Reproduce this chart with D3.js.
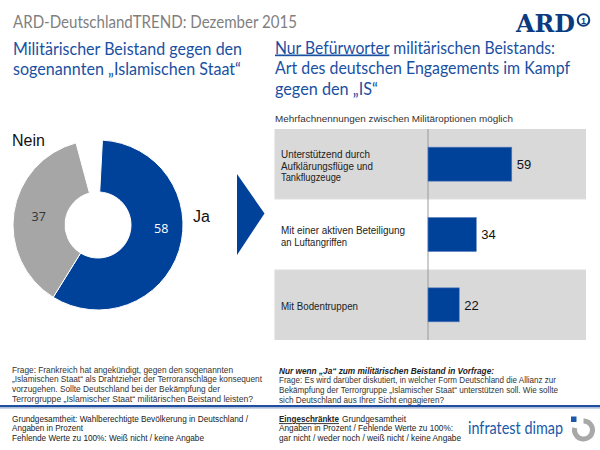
<!DOCTYPE html>
<html><head><meta charset="utf-8">
<script src="https://cdn.jsdelivr.net/npm/d3@7"></script>
<style>body{margin:0;background:#fff}svg{display:block}</style>
</head><body>
<script>
// ---- data ----
const pieCategories = ["Ja", "Nein"];
const pieValues = [58, 37];
const barCategories = ["Unterstützend durch Aufklärungsflüge und Tankflugzeuge", "Mit einer aktiven Beteiligung an Luftangriffen", "Mit Bodentruppen"];
const barLabelLines = [["Unterstützend  durch", "Aufklärungsflüge  und", "Tankflugzeuge"], ["Mit einer aktiven Beteiligung", "an Luftangriffen"], ["Mit Bodentruppen"]];
const barValues = [59, 34, 22];
const headerText = "ARD-DeutschlandTREND: Dezember 2015";
const leftTitle = ["Militärischer Beistand gegen den", "sogenannten „Islamischen Staat“"];
const rightTitle = [["Nur Befürworter", " militärischen Beistands:"], ["", "Art des deutschen Engagements im Kampf"], ["", "gegen den „IS“"]];
const noteText = "Mehrfachnennungen  zwischen Militäroptionen möglich";
const leftQuestion = ["Frage: Frankreich hat angekündigt,  gegen den sogenannten", "„Islamischen Staat“ als Drahtzieher der Terroranschläge  konsequent", "vorzugehen.  Sollte Deutschland bei der Bekämpfung der", "Terrorgruppe  „Islamischer Staat“ militärischen Beistand leisten?"];
const rightQuestionHead = "Nur wenn „Ja“ zum militärischen  Beistand  in Vorfrage:";
const rightQuestion = ["Frage: Es wird darüber  diskutiert, in welcher Form Deutschland  die Allianz zur", "Bekämpfung der Terrorgruppe  „Islamischer Staat“ unterstützen soll. Wie sollte", "sich Deutschland  aus Ihrer  Sicht engagieren?"];
const leftBase = ["Grundgesamtheit:  Wahlberechtigte Bevölkerung  in Deutschland /", "Angaben in Prozent", "Fehlende  Werte zu 100%: Weiß nicht / keine Angabe"];
const rightBaseHead = ["Eingeschränkte", "Grundgesamtheit"];
const rightBase = ["Angaben in Prozent  / Fehlende Werte zu 100%:", "gar nicht / weder noch / weiß nicht / keine Angabe"];

// ---- style ----
const BLUE = "#00419a", TBLUE = "#1a50a2", GRAY = "#a6a6a6", STRIPE = "#d9d9d9";
const TITLEFONT = "Lato, 'Open Sans', sans-serif", ARIAL = "'Liberation Sans', Arial, sans-serif";

const svg = d3.select("body").append("svg").attr("width", 600).attr("height", 450);
svg.append("rect").attr("width", 600).attr("height", 450).attr("fill", "#fff");

function fitText(sel, w) {
  sel.each(function () {
    const len = this.getComputedTextLength();
    if (len > 0) d3.select(this).attr("textLength", w).attr("lengthAdjust", "spacingAndGlyphs");
  });
}

// header
svg.append("text").attr("x", 13).attr("y", 28).attr("font-family", TITLEFONT).attr("font-size", 18)
  .attr("fill", "#7f7f7f").text(headerText).call(fitText, 284);

// ARD logo
svg.append("text").attr("x", 516).attr("y", 32).attr("font-family", "'DejaVu Serif', serif").attr("font-weight", "bold")
  .attr("font-size", 24).attr("fill", "#0b3a7e").text("ARD").call(fitText, 59);
svg.append("circle").attr("cx", 583.5).attr("cy", 20).attr("r", 5.8).attr("fill", "none").attr("stroke", "#0b3a7e").attr("stroke-width", 2);
svg.append("text").attr("x", 583.5).attr("y", 23.5).attr("text-anchor", "middle").attr("font-family", ARIAL).attr("font-weight", "bold")
  .attr("font-size", 9).attr("fill", "#0b3a7e").text("1");

// left title
const ltW = [229, 228];
leftTitle.forEach((t, i) => {
  svg.append("text").attr("x", 13).attr("y", 54.5 + i * 20).attr("font-family", TITLEFONT).attr("font-size", 17)
    .attr("fill", TBLUE).text(t).call(fitText, ltW[i]);
});
// right title
const rtW = [280, 295, 103];
rightTitle.forEach((parts, i) => {
  const t = svg.append("text").attr("x", 275).attr("y", 53.5 + i * 20.5).attr("font-family", TITLEFONT).attr("font-size", 17)
    .attr("fill", TBLUE);
  if (parts[0]) t.append("tspan").attr("text-decoration", "underline").text(parts[0]);
  t.append("tspan").text(parts[1]);
  t.call(fitText, rtW[i]);
});

// ---- donut ----
const cx = 98, cy = 225, rOut = 85, rIn = 33;
const start = 3 * Math.PI / 180;
const total = d3.sum(pieValues);
const pie = d3.pie().sort(null).value(d => d.v).startAngle(start).endAngle(start + 2 * Math.PI * total / 100);
const arcs = pie(pieCategories.map((c, i) => ({ c, v: pieValues[i] })));
const arc = d3.arc().innerRadius(rIn).outerRadius(rOut);
const pieColor = d3.scaleOrdinal().domain(pieCategories).range([BLUE, GRAY]);
const pg = svg.append("g").attr("transform", `translate(${cx},${cy})`);
pg.selectAll("path").data(arcs).join("path").attr("d", arc).attr("fill", d => pieColor(d.data.c))
  .attr("stroke", "#fff").attr("stroke-width", 1);
const labelArc = d3.arc().innerRadius(60).outerRadius(60);
pg.selectAll("text.v").data(arcs).join("text").attr("class", "v")
  .attr("transform", (d, i) => {
    const [x, y] = labelArc.centroid(d);
    return i === 0 ? `translate(${x + 6},${y - 14})` : `translate(${x},${y})`;
  })
  .attr("text-anchor", "middle").attr("dy", "0.36em").attr("font-family", "'Open Sans', sans-serif").attr("font-size", 12.5)
  .attr("fill", (d, i) => i === 0 ? "#fff" : "#333").text(d => d.data.v);
// category labels
svg.append("text").attr("x", 193).attr("y", 222).attr("font-family", ARIAL).attr("font-size", 16).attr("fill", "#111").text(pieCategories[0]);
svg.append("text").attr("x", 12).attr("y", 145.5).attr("font-family", ARIAL).attr("font-size", 16).attr("fill", "#111").text(pieCategories[1]);

// arrow
svg.append("path").attr("d", "M237,174 L264.5,213.5 L237,255 Z").attr("fill", BLUE);

// ---- bars ----
svg.append("text").attr("x", 275).attr("y", 122).attr("font-family", ARIAL).attr("font-size", 9).attr("fill", "#333").text(noteText).call(fitText, 238);
const x = d3.scaleLinear().domain([0, 100]).range([428, 570]);
const y = d3.scaleBand().domain(barCategories).range([129, 340]).padding(0);
const bw = y.bandwidth();
const panelL = 274.5, panelR = 586;
const bg = svg.append("g");
bg.selectAll("rect.row").data(barCategories).join("rect").attr("class", "row")
  .attr("x", panelL).attr("width", panelR - panelL).attr("y", d => y(d)).attr("height", bw)
  .attr("fill", (d, i) => i % 2 === 0 ? STRIPE : "#fff");
bg.selectAll("line.sep").data(barCategories.slice(1)).join("line").attr("class", "sep")
  .attr("x1", panelL).attr("x2", panelR).attr("y1", d => y(d)).attr("y2", d => y(d)).attr("stroke", "#ececec");
bg.append("line").attr("x1", x(0)).attr("x2", x(0)).attr("y1", 129).attr("y2", 340).attr("stroke", "#9a9a9a").attr("stroke-width", 1);
const barH = 34;
bg.selectAll("rect.bar").data(barCategories).join("rect").attr("class", "bar")
  .attr("x", x(0)).attr("y", d => y(d) + (bw - barH) / 2).attr("height", barH)
  .attr("width", (d, i) => x(barValues[i]) - x(0)).attr("fill", BLUE).attr("stroke", "#5b7fc0").attr("stroke-width", 0.6);
bg.selectAll("text.val").data(barCategories).join("text").attr("class", "val")
  .attr("x", (d, i) => x(barValues[i]) + 5).attr("y", d => y(d) + bw / 2).attr("dy", "0.36em")
  .attr("font-family", ARIAL).attr("font-size", 13).attr("fill", "#111").text((d, i) => barValues[i]);
const catLineW = [[89, 92, 60], [124, 66], [77]];
barCategories.forEach((d, i) => {
  const lines = barLabelLines[i];
  const lh = 11.8;
  const c = y(d) + bw / 2 + 2;
  lines.forEach((l, j) => {
    bg.append("text").attr("class", "cat").attr("x", 281).attr("y", c + (j - (lines.length - 1) / 2) * lh + 3.5)
      .attr("font-family", ARIAL).attr("font-size", 10).attr("fill", "#222").text(l).call(fitText, catLineW[i][j]);
  });
});

// ---- bottom notes ----
const qW = [221, 250, 208, 241];
leftQuestion.forEach((t, i) => {
  svg.append("text").attr("x", 12).attr("y", 372.5 + i * 9.8).attr("font-family", ARIAL).attr("font-size", 8.8).attr("fill", "#333").text(t).call(fitText, qW[i]);
});
svg.append("text").attr("x", 279).attr("y", 373.5).attr("font-family", ARIAL).attr("font-size", 8.8).attr("font-weight", "bold")
  .attr("font-style", "italic").attr("fill", "#222").text(rightQuestionHead).call(fitText, 215);
const rqW = [277, 279, 165];
rightQuestion.forEach((t, i) => {
  svg.append("text").attr("x", 279).attr("y", 383.3 + i * 9.8).attr("font-family", ARIAL).attr("font-size", 8.8).attr("fill", "#333").text(t).call(fitText, rqW[i]);
});
// separator
svg.append("rect").attr("x", 0).attr("y", 405).attr("width", 600).attr("height", 2.5).attr("fill", "#1f4f9e");
svg.append("rect").attr("x", 0).attr("y", 407.5).attr("width", 600).attr("height", 1.5).attr("fill", "#c9d3e6");

const baseY = [422.2, 431.4, 440.6];
const lbW = [236, 71, 192];
leftBase.forEach((t, i) => {
  svg.append("text").attr("x", 12).attr("y", baseY[i]).attr("font-family", ARIAL).attr("font-size", 8.9).attr("fill", "#222").text(t).call(fitText, lbW[i]);
});
svg.append("text").attr("x", 279).attr("y", baseY[0]).attr("font-family", ARIAL).attr("font-size", 8.9).attr("font-weight", "bold")
  .attr("text-decoration", "underline").attr("fill", "#222").text(rightBaseHead[0]).call(fitText, 60);
svg.append("text").attr("x", 342).attr("y", baseY[0]).attr("font-family", ARIAL).attr("font-size", 8.9)
  .attr("fill", "#222").text(rightBaseHead[1]).call(fitText, 64);
const rbW = [174, 182];
rightBase.forEach((t, i) => {
  svg.append("text").attr("x", 279).attr("y", baseY[i + 1]).attr("font-family", ARIAL).attr("font-size", 8.9).attr("fill", "#222").text(t).call(fitText, rbW[i]);
});

// infratest dimap logo
svg.append("text").attr("x", 468).attr("y", 434).attr("font-family", TITLEFONT).attr("font-size", 18).attr("fill", "#1a5aa8")
  .text("infratest dimap").call(fitText, 95);
const lg = svg.append("g").attr("transform", "translate(583.5,430)");
lg.append("path").attr("d", d3.arc().innerRadius(6.5).outerRadius(11.5).startAngle(0).endAngle(1.5 * Math.PI + 0.25)()).attr("fill", "#a8a8a8");
lg.append("rect").attr("x", -12.5).attr("y", -13.5).attr("width", 5.5).attr("height", 5.5).attr("fill", "#1a5aa8");
</script>
</body></html>
